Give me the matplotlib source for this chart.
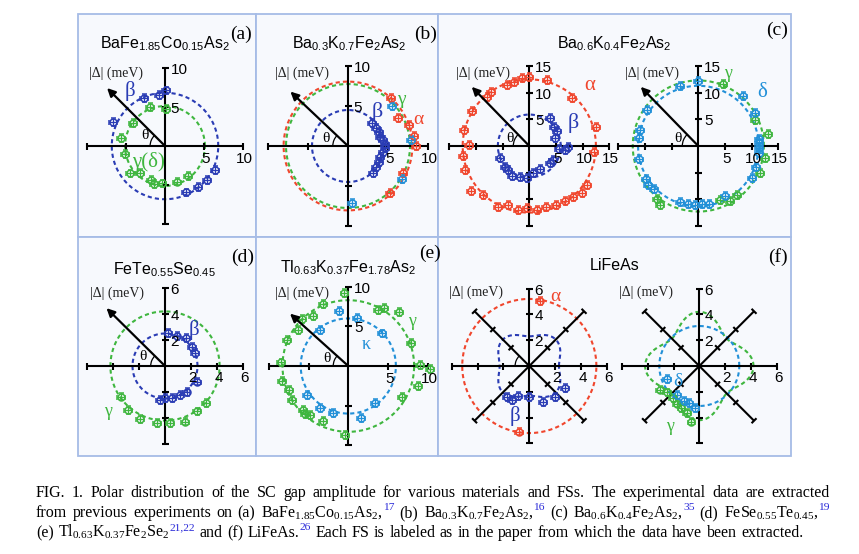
import re
import numpy as np
import matplotlib.pyplot as plt
from matplotlib.patches import Rectangle, Arc

plt.rcParams['mathtext.default'] = 'regular'

W, H = 859, 554
SANS = 'Liberation Sans'
SERIF = 'Liberation Serif'
RED = '#f0462d'
BLUE = '#2a3cb4'
GREEN = '#3fb63f'
CYAN = '#2290d8'
LINK = '#2a2ad8'

# ---- gap data: angle theta (deg), |gap| (meV) ----
# (a) BaFe1.85Co0.15As2
a_beta_th = [89, 97, 114, 155, 294, 309, 321, 334]
a_beta_gap = [7.1, 6.6, 6.7, 7.3, 6.5, 6.7, 6.9, 7.1]
a_gamma_th = [88, 111, 144, 170, 191, 218, 227, 247, 254, 265, 289, 307]
a_gamma_gap = [4.7, 5.3, 5.0, 5.7, 5.2, 5.7, 4.7, 4.7, 5.0, 4.8, 4.8, 4.8]
a_fit = {'beta': 6.8, 'gamma': 5.1}

# (b) Ba0.3K0.7Fe2As2
b_alpha_th = [48, 29, 19, 9, 0, -26, -48]
b_alpha_gap = [8.05, 7.2, 8.0, 8.3, 8.5, 7.7, 7.9]
b_gamma_th = [42, 5, -32, -86]
b_gamma_gap = [7.4, 7.9, 7.9, 7.2]
b_beta_th = [44, 32, 24, 15, 9, 3, -3, -9, -19, -27, -36, -47]
b_beta_gap = [4.2, 4.2, 4.2, 4.15, 4.45, 4.6, 4.6, 4.4, 4.2, 4.3, 4.4, 4.6]
b_fit = {'alpha': 8.05, 'gamma': 7.75, 'beta': 4.5}

# (c) Ba0.6K0.4Fe2As2
c_alpha_th = [90, 75, 48, 16, -5, -34, -42, -49, -57, -66, -75, -83, -92, -100,
              -110, -117, -133, -142, -160, -171, 179, 166, 149, 131, 125, 110, 103, 96]
c_alpha_gap = [13.0, 12.8, 12.1, 13.0, 12.2, 13.0, 13.2, 12.6, 12.4, 12.1, 11.8, 12.1, 11.7, 12.1,
               11.7, 12.8, 12.6, 13.8, 12.9, 12.5, 11.4, 12.7, 12.6, 12.2, 12.4, 12.2, 12.4, 12.8]
c_beta_th = [54, 38, 28, 17, -5, -6, -1, -30, -40, -65, -82, -94, -107, -120, -131, -140, -157]
c_beta_gap = [6.6, 5.9, 5.8, 5.0, 5.5, 6.7, 7.3, 5.2, 5.1, 4.8, 5.2, 6.1, 6.0, 6.6, 6.0, 6.0, 6.0]
c_delta_th = [90, 107, 145, 165, 172, 192, 212, 218, 224, -108, -100, -93, -86, -80,
              -62, -31, -20, -7, -2, 3, 7, 30, 48]
c_delta_gap = [12.2, 11.8, 11.8, 11.4, 11.2, 11.3, 11.6, 11.9, 11.5, 11.0, 11.0, 11.0, 11.0, 11.1,
               10.7, 11.7, 11.6, 11.4, 11.4, 11.4, 11.4, 12.3, 12.5]
c_gamma_th = [68, 25, 10, -10, -24, -52, -60, -68, -123, -128]
c_gamma_gap = [12.5, 11.7, 13.3, 12.8, 12.6, 11.7, 12.0, 10.9, 13.2, 12.6]
c_fit = {'alpha': 12.5, 'beta': 5.9, 'gamma': 12.3, 'delta': 11.3}

# (d) FeTe0.55Se0.45
d_beta_th = [84, 69, 53, 35, 23, -26, -50, -63, -78, -90, -98]
d_beta_gap = [2.53, 2.48, 2.67, 2.5, 2.5, 2.72, 2.58, 2.5, 2.54, 2.49, 2.64]
d_gamma_th = [-42, -55, -70, -85, -98, -115, -130, -145]
d_gamma_gap = [4.26, 4.27, 4.55, 4.43, 4.4, 4.5, 4.4, 4.1]
d_fit = {'gamma': 4.2, 'beta': 2.5}

# (e) Tl0.63K0.37Fe1.78As2
e_gamma_th = [93, 112, 125, 135, 144, 157, 177, 193, 202, 211, 224, 228, 232, 245, 267,
              -30, -16, -2, 1, 20, 47, 58, 62]
e_gamma_gap = [9.2, 8.4, 7.7, 8.3, 7.8, 8.4, 8.5, 8.6, 8.1, 8.3, 7.9, 8.2, 7.8, 7.6, 8.7,
               7.75, 9.2, 10.3, 9.0, 8.4, 9.3, 8.6, 8.0]
e_kappa_th = [100, 80, 44, 128, 215, 236, 252, -76, -54]
e_kappa_gap = [7.0, 6.1, 5.9, 5.8, 6.4, 6.4, 6.2, 6.8, 5.8]
e_fit = {'gamma': 8.3, 'kappa': 6.0}

# (f) LiFeAs  (fits: mean + cos(4 theta) amplitude)
f_alpha_th = [81, 261]
f_alpha_gap = [5.1, 5.15]
f_beta_th = [-126, -117, -110, -90, -69, -50, -32]
f_beta_gap = [2.96, 2.97, 2.5, 2.38, 2.97, 3.1, 3.26]
f_gamma_th = [-149, -141, -129, -121, -113, -105, -98]
f_gamma_gap = [3.55, 3.25, 3.2, 3.4, 3.55, 3.75, 4.35]
f_delta_th = [-158, -128, -114, -106, -96]
f_delta_gap = [2.73, 2.85, 3.0, 3.0, 3.3]
f_fit = {'alpha': (5.2, 0.0), 'beta': (2.6, -0.3), 'gamma': (3.6, 0.6), 'delta': (3.1, 0.0)}

titles = ['BaFe_{1.85}Co_{0.15}As_{2}', 'Ba_{0.3}K_{0.7}Fe_{2}As_{2}', 'Ba_{0.6}K_{0.4}Fe_{2}As_{2}',
          'FeTe_{0.55}Se_{0.45}', 'Tl_{0.63}K_{0.37}Fe_{1.78}As_{2}', 'LiFeAs']
caption = [
    'FIG. 1. Polar distribution of the SC gap amplitude for various materials and FSs. '
    'The experimental data are extracted',
    'from previous experiments on (a) BaFe_{1.85}Co_{0.15}As_{2},^{17} (b) Ba_{0.3}K_{0.7}Fe_{2}As_{2},^{16} '
    '(c) Ba_{0.6}K_{0.4}Fe_{2}As_{2},^{35} (d) FeSe_{0.55}Te_{0.45},^{19}',
    '(e) Tl_{0.63}K_{0.37}Fe_{2}Se_{2}^{21,22} and (f) LiFeAs.^{26} Each FS is labeled as in the paper '
    'from which the data have been extracted.',
]

fig = plt.figure(figsize=(W / 100, H / 100), dpi=100)
R = fig.canvas.get_renderer()


def parse(s):
    # split off ^{..} pieces (own colour); _{..} become mathtext subscripts
    out = []
    for k, part in enumerate(re.split(r'\^\{([^}]*)\}', s)):
        if not part:
            continue
        if k % 2:
            out.append((part, 1))
        else:
            out.append((re.sub(r'_\{([^}]*)\}', r'$_{\1}$', part), 0))
    return out


def rich(s, size, family, color='k', sup_color=None):
    items, x = [], 0.0
    for txt, lvl in parse(s):
        fs = size if lvl == 0 else size * 0.72
        dy = 0.42 * size * 100 / 72 if lvl else 0.0
        col = sup_color if (lvl == 1 and sup_color) else color
        t = fig.text(0, 0, txt, fontsize=fs, family=family, color=col, va='baseline', ha='left')
        w = t.get_window_extent(R).width
        items.append((t, x, dy))
        x += w + (0.5 if lvl == 0 else 0)
    return x, items


def place(items, x, y):
    for t, dx, dy in items:
        t.set_position(((x + dx) / W, 1 - (y - dy) / H))


def rich_text(x, y, s, size, family, color='k', ha='left'):
    w, items = rich(s, size, family, color)
    place(items, x - w / 2 if ha == 'center' else x, y)


# ---- panel frames ----
xs = [78, 256, 438, 791]
ys = [14, 237, 456]
for r in range(2):
    for c in range(3):
        fig.add_artist(Rectangle((xs[c] / W, 1 - ys[r + 1] / H), (xs[c + 1] - xs[c]) / W,
                                 (ys[r + 1] - ys[r]) / H, transform=fig.transFigure,
                                 facecolor='#f7f9fd', edgecolor='#a6bce6', lw=1.3, zorder=-1))


def panel(box, center, scale, rmax, step, diag=False):
    x0, y0, x1, y1 = box
    cx, cy = center
    ax = fig.add_axes([x0 / W, 1 - y1 / H, (x1 - x0) / W, (y1 - y0) / H])
    ax.set_xlim((x0 - cx) / scale, (x1 - cx) / scale)
    ax.set_ylim((cy - y1) / scale, (cy - y0) / scale)
    ax.axis('off')
    tk = 3.5 / scale
    kw = dict(color='k', lw=1.5, zorder=3, solid_capstyle='butt')
    for d in [0, 90] + ([45, 135] if diag else []):
        c, s = np.cos(np.radians(d)), np.sin(np.radians(d))
        ax.plot([-rmax * c, rmax * c], [-rmax * s, rmax * s], **kw)
        for v in np.arange(step, rmax + 0.01, step):
            for sg in (-1, 1):
                px_, py_ = sg * v * c, sg * v * s
                ax.plot([px_ + tk * s, px_ - tk * s], [py_ - tk * c, py_ + tk * c], **kw)
    for v in np.arange(step, rmax + 0.01, step):
        ax.text(v + 0.02 * rmax, -0.16 * rmax, '%g' % v, fontsize=11, family=SANS, ha='center', va='center',
                zorder=6)
        ax.text(0.07 * rmax, v - 0.025 * rmax, '%g' % v, fontsize=11, family=SANS, ha='left', va='center',
                zorder=6)
    return ax


def fit(ax, r0, color, a4=0.0):
    t = np.linspace(0, 2 * np.pi, 400)
    r = r0 + a4 * np.cos(4 * t)
    ax.plot(r * np.cos(t), r * np.sin(t), ls=(0, (2.0, 1.5)), color=color, lw=1.5, zorder=2)


def pts(ax, th, gap, color, rmax):
    t = np.radians(th)
    g = np.array(gap)
    e = 0.05 * rmax
    ax.errorbar(g * np.cos(t), g * np.sin(t), xerr=e, yerr=e, fmt='o', ms=5, mfc='none',
                mec=color, ecolor=color, mew=1.1, elinewidth=0.9, capsize=1.8, capthick=0.9, zorder=4)


def deco(ax, tip, lab, rmax, theta_pos=None, arc_r=None, arrow=True):
    if arrow:
        ax.annotate('', xy=tip, xytext=(0, 0),
                    arrowprops=dict(arrowstyle='-|>', color='k', lw=1.6, mutation_scale=12,
                                    shrinkA=0, shrinkB=0), zorder=5)
    ax.text(lab[0], lab[1], '|Δ| (meV)', fontsize=10, family=SERIF, color='#222222',
            ha='center', va='center')
    if arc_r:
        ax.add_patch(Arc((0, 0), 2 * arc_r, 2 * arc_r, theta1=135, theta2=180, color='k', lw=0.9))
    if theta_pos:
        ax.text(theta_pos[0], theta_pos[1], 'θ', fontsize=11, family=SERIF, ha='center', va='center')


def glabel(ax, x, y, s, color, size=13):
    ax.text(x, y, s, fontsize=size, family=SERIF, color=color, ha='center', va='center', zorder=6)


# (a)
ax = panel((79, 15, 255, 236), (165, 146), 7.83, 10, 5)
fit(ax, a_fit['beta'], BLUE)
fit(ax, a_fit['gamma'], GREEN)
pts(ax, a_beta_th, a_beta_gap, BLUE, 10)
pts(ax, a_gamma_th, a_gamma_gap, GREEN, 10)
deco(ax, (-7.4, 7.4), (-6.2, 9.3), 10, (-2.55, 1.3), 1.9)
glabel(ax, -4.5, 7.0, 'β', BLUE, 15)
glabel(ax, -2.1, -2.0, 'γ(δ)', GREEN, 15)

# (b)
ax = panel((257, 15, 437, 236), (348, 146), 8.0, 10, 5)
fit(ax, b_fit['alpha'], RED)
fit(ax, b_fit['gamma'], GREEN)
fit(ax, b_fit['beta'], BLUE)
pts(ax, b_alpha_th, b_alpha_gap, RED, 10)
pts(ax, b_gamma_th, b_gamma_gap, CYAN, 10)
pts(ax, b_beta_th, b_beta_gap, BLUE, 10)
deco(ax, (-7.2, 6.8), (-5.8, 9.1), 10, (-2.7, 0.95), 1.9)
glabel(ax, 3.7, 4.3, 'β', BLUE, 16)
glabel(ax, 6.7, 5.75, 'γ', GREEN, 14)
glabel(ax, 8.75, 3.25, 'α', RED, 14)

# (c) left and right
ax = panel((439, 15, 614, 236), (529.3, 146), 5.33, 15, 5)
fit(ax, c_fit['alpha'], RED)
fit(ax, c_fit['beta'], BLUE)
pts(ax, c_alpha_th, c_alpha_gap, RED, 15)
pts(ax, c_beta_th, c_beta_gap, BLUE, 15)
deco(ax, (-10.8, 11.1), (-8.6, 13.6), 15, (-3.6, 1.4), 3.0)
glabel(ax, 11.4, 11.4, 'α', RED, 15)
glabel(ax, 8.25, 4.25, 'β', BLUE, 16)

ax = panel((614, 15, 790, 236), (698.3, 146), 5.33, 15, 5)
fit(ax, c_fit['gamma'], GREEN)
fit(ax, c_fit['delta'], CYAN)
pts(ax, c_gamma_th, c_gamma_gap, GREEN, 15)
pts(ax, c_delta_th, c_delta_gap, CYAN, 15)
deco(ax, (-10.8, 11.1), (-8.75, 13.6), 15, (-3.75, 1.4), 3.0)
glabel(ax, 5.6, 13.6, 'γ', GREEN, 13)
glabel(ax, 11.9, 10.0, 'δ', CYAN, 15)

# (d)
ax = panel((79, 237, 255, 455), (165, 366), 13.0, 6, 2)
fit(ax, d_fit['gamma'], GREEN)
fit(ax, d_fit['beta'], BLUE)
pts(ax, d_beta_th, d_beta_gap, BLUE, 6)
pts(ax, d_gamma_th, d_gamma_gap, GREEN, 6)
deco(ax, (-4.5, 4.45), (-3.7, 5.6), 6, (-1.67, 0.7), 1.1)
glabel(ax, 2.2, 2.77, 'β', BLUE, 15)
glabel(ax, -4.36, -3.5, 'γ', GREEN, 13)

# (e)
ax = panel((257, 237, 437, 455), (348.3, 366), 7.93, 10, 5)
fit(ax, e_fit['gamma'], GREEN)
fit(ax, e_fit['kappa'], CYAN)
pts(ax, e_gamma_th, e_gamma_gap, GREEN, 10)
pts(ax, e_kappa_th, e_kappa_gap, CYAN, 10)
deco(ax, (-7.35, 6.6), (-5.9, 9.2), 10, (-2.7, 0.95), 1.9)
glabel(ax, 8.0, 5.6, 'γ', GREEN, 13)
glabel(ax, 2.3, 2.65, 'κ', CYAN, 13)

# (f) left and right
ax = panel((439, 237, 614, 455), (529.3, 366), 12.9, 6, 2, diag=True)
fit(ax, f_fit['alpha'][0], RED, f_fit['alpha'][1])
fit(ax, f_fit['beta'][0], BLUE, f_fit['beta'][1])
pts(ax, f_alpha_th, f_alpha_gap, RED, 6)
pts(ax, f_beta_th, f_beta_gap, BLUE, 6)
deco(ax, None, (-4.1, 5.7), 6, None, 1.1, arrow=False)
glabel(ax, 2.0, 5.4, 'α', RED, 14)
glabel(ax, -1.1, -3.9, 'β', BLUE, 15)

ax = panel((614, 237, 790, 455), (699.3, 366), 12.9, 6, 2, diag=True)
fit(ax, f_fit['gamma'][0], GREEN, f_fit['gamma'][1])
fit(ax, f_fit['delta'][0], CYAN, f_fit['delta'][1])
pts(ax, f_gamma_th, f_gamma_gap, GREEN, 6)
pts(ax, f_delta_th, f_delta_gap, CYAN, 6)
deco(ax, None, (-4.1, 5.7), 6, None, None, arrow=False)
glabel(ax, -1.63, -1.2, 'δ', CYAN, 14)
glabel(ax, -2.3, -4.7, 'γ', GREEN, 13)

# ---- titles and panel letters ----
title_pos = [(165, 48), (350, 48), (615, 48), (165, 274), (348, 272), (615, 270)]
for s, (x, y) in zip(titles, title_pos):
    rich_text(x, y, s, 11.5, SANS, ha='center')
letters = ['(a)', '(b)', '(c)', '(d)', '(e)', '(f)']
letter_pos = [(241, 34), (426, 34), (777, 30), (243, 257), (430, 253), (778, 257)]
for s, (x, y) in zip(letters, letter_pos):
    fig.text(x / W, 1 - y / H, s, fontsize=14, family=SERIF, ha='center', va='center')

# ---- caption, justified ----
CAP_L, CAP_R = 36, 830
cap_y = [497, 517, 537]
for k, line in enumerate(caption):
    words = line.split(' ')
    parts = [rich(w, 11.5, SERIF, sup_color=LINK) for w in words]
    tot = sum(p[0] for p in parts)
    gap = (CAP_R - CAP_L - tot) / (len(words) - 1) if k < 2 else 11.5 * 100 / 72 * 0.25
    x = CAP_L
    for wdt, items in parts:
        place(items, x, cap_y[k])
        x += wdt + gap

fig.savefig('out.png', dpi=100)
